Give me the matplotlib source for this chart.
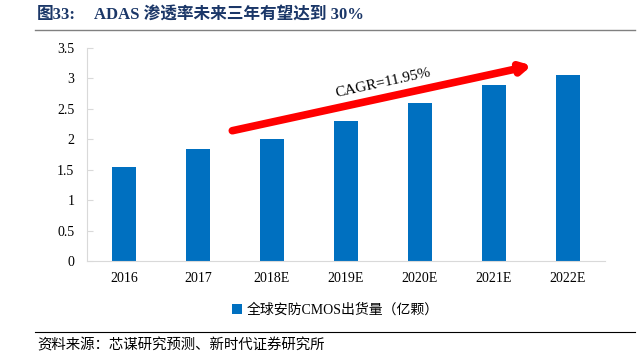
import matplotlib.pyplot as plt
import numpy as np

plt.rcParams['font.family'] = ['Liberation Serif', 'Noto Sans CJK SC', 'DejaVu Sans']

years = ['2016', '2017', '2018E', '2019E', '2020E', '2021E', '2022E']
cmos = [1.55, 1.84, 2.01, 2.30, 2.59, 2.89, 3.05]
yticks = [0, 0.5, 1, 1.5, 2, 2.5, 3, 3.5]
yticklabels = ['0', '0.5', '1', '1.5', '2', '2.5', '3', '3.5']

fig = plt.figure(figsize=(6.38, 3.6), dpi=100)
ax = fig.add_axes([0.136, 0.275, 0.812, 0.592])

x = np.arange(len(years))
ax.bar(x, cmos, width=0.33, color='#0070C0', label='全球安防CMOS出货量（亿颗）')

ax.set_xlim(-0.5, len(years) - 0.5)
ax.set_ylim(0, 3.5)
ax.set_xticks(x)
ax.set_xticklabels(years, fontsize=10)
ax.set_yticks(yticks)
ax.set_yticklabels(yticklabels, fontsize=10)
ax.tick_params(axis='x', length=0, pad=8)
ax.tick_params(axis='y', direction='in', length=4, color='#d9d9d9', pad=9)
for s in ['top', 'right']:
    ax.spines[s].set_visible(False)
for s in ['left', 'bottom']:
    ax.spines[s].set_color('#d9d9d9')

# CAGR arrow
ax.annotate('', xy=(5.55, 3.22), xytext=(1.43, 2.13),
            arrowprops=dict(arrowstyle='-|>,head_length=0.55,head_width=0.3',
                            color='#FF0000', lw=5.5))
ax.text(3.5, 2.93, 'CAGR=11.95%', rotation=12.5, ha='center', va='center', fontsize=11)

ax.legend(loc='upper center', bbox_to_anchor=(0.48, -0.14), frameon=False,
          handlelength=0.7, handleheight=0.7, handletextpad=0.3,
          prop={'family': ['Liberation Serif', 'Noto Sans CJK SC'], 'size': 10})

# title and source
fig.text(0.058, 0.958, '图33:', fontsize=12, fontweight='bold', color='#1B3768',
         va='center', family=['Liberation Serif', 'Noto Sans CJK SC'])
fig.text(0.148, 0.958, 'ADAS 渗透率未来三年有望达到 30%', fontsize=12, fontweight='bold',
         color='#1B3768', va='center', family=['Liberation Serif', 'Noto Sans CJK SC'])
fig.add_artist(plt.Line2D([0.055, 0.995], [0.918, 0.918], color='#808080', lw=1))
fig.add_artist(plt.Line2D([0.055, 0.995], [0.078, 0.078], color='#000000', lw=0.8))
fig.text(0.058, 0.04, '资料来源：芯谋研究预测、新时代证券研究所', fontsize=10.4, va='center',
         family=['Noto Sans CJK SC', 'Liberation Serif'])

fig.savefig('out.png', dpi=100)
